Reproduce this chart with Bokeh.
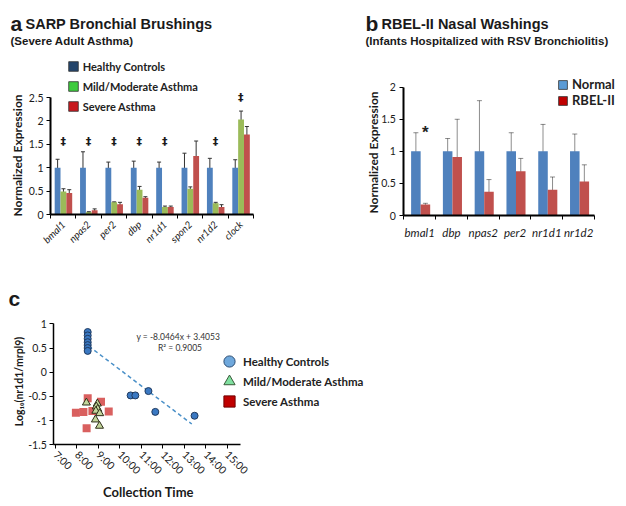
import math
from bokeh.plotting import figure
from bokeh.models import (ColumnDataSource, Range1d, FixedTicker, NumeralTickFormatter,
                          Whisker, TeeHead, Legend, LegendItem, Label)
from bokeh.layouts import column, row
from bokeh.embed import file_html
from bokeh.resources import INLINE
from bokeh.core.properties import value

# ---------------- data: panel a ----------------
a_genes = ["bmal1", "npas2", "per2", "dbp", "nr1d1", "spon2", "nr1d2", "clock"]
a_series = ["Healthy Controls", "Mild/Moderate Asthma", "Severe Asthma"]
a_healthy = [1.0, 1.0, 1.0, 1.0, 1.0, 1.0, 1.0, 1.0]
a_healthy_err = [0.18, 0.34, 0.12, 0.14, 0.12, 0.31, 0.20, 0.17]
a_mild = [0.49, 0.05, 0.26, 0.53, 0.16, 0.55, 0.24, 2.03]
a_mild_err = [0.06, 0.01, 0.01, 0.07, 0.02, 0.04, 0.02, 0.18]
a_severe = [0.46, 0.09, 0.22, 0.36, 0.16, 1.25, 0.16, 1.71]
a_severe_err = [0.07, 0.03, 0.04, 0.02, 0.02, 0.32, 0.05, 0.17]
a_sig_genes = ["bmal1", "npas2", "per2", "dbp", "nr1d1", "nr1d2", "clock"]
a_sig_y = [1.57, 1.57, 1.57, 1.57, 1.57, 1.57, 2.5]
a_yticks = [0, 0.5, 1, 1.5, 2, 2.5]

# ---------------- data: panel b ----------------
b_genes = ["bmal1", "dbp", "npas2", "per2", "nr1d1", "nr1d2"]
b_series = ["Normal", "RBEL-II"]
b_normal = [1.0, 1.0, 1.0, 1.0, 1.0, 1.0]
b_normal_err = [0.29, 0.20, 0.79, 0.29, 0.42, 0.27]
b_rbel = [0.17, 0.91, 0.37, 0.69, 0.40, 0.53]
b_rbel_err = [0.02, 0.59, 0.19, 0.20, 0.20, 0.26]
b_sig_gene = "bmal1"
b_sig_y = 1.36
b_yticks = [0, 0.5, 1, 1.5, 2]

# ---------------- data: panel c ----------------
c_series = ["Healthy Controls", "Mild/Moderate Asthma", "Severe Asthma"]
c_healthy_t = [8.5, 8.5, 8.5, 8.5, 8.5, 8.5, 8.5, 10.5, 10.72, 11.33, 11.65, 13.48]
c_healthy_v = [0.83, 0.76, 0.69, 0.62, 0.56, 0.50, 0.44, -0.48, -0.48, -0.39, -0.82, -0.90]
c_mild_t = [8.44, 8.95, 8.90, 8.97, 8.88, 9.06, 8.86, 9.05]
c_mild_v = [-0.63, -0.65, -0.71, -0.76, -0.80, -0.85, -0.98, -1.11]
c_severe_t = [7.95, 8.30, 8.50, 8.45, 8.72, 9.12, 9.48]
c_severe_v = [-0.84, -0.82, -0.54, -1.16, -0.80, -0.61, -0.81]
c_trend_slope = -8.0464
c_trend_intercept = 3.4053
c_trend_t = [8.55, 13.35]
c_eq_text = ["y = -8.0464x + 3.4053", "R\u00b2 = 0.9005"]
c_eq_t = [12.72, 12.80]
c_eq_v = [0.72, 0.50]
c_xticks = [7, 8, 9, 10, 11, 12, 13, 14, 15]
c_xlabels = ["7:00", "8:00", "9:00", "10:00", "11:00", "12:00", "13:00", "14:00", "15:00"]
c_yticks = [-1.5, -1, -0.5, 0, 0.5, 1]

SANS = "Lato"
TFONT = "Liberation Sans"
TXT = "#1a1a1a"


def outer_x(d0, d1, p0, p1, size):
    """x range covering the whole figure so that d0 sits at pixel p0 and d1 at p1"""
    ppu = (p1 - p0) / (d1 - d0)
    return Range1d(d0 - p0 / ppu, d0 + (size - p0) / ppu)


def outer_y(d0, d1, p0, p1, size):
    """y range (pixels measured from the top) so that d0 sits at p0 and d1 at p1"""
    ppu = (p0 - p1) / (d1 - d0)
    return Range1d(d0 - (size - p0) / ppu, d0 + p0 / ppu)


def make_fig(w, h, xr, yr):
    p = figure(width=w, height=h, x_range=xr, y_range=yr, output_backend="svg",
               toolbar_location=None, title=None, min_border=0)
    p.outline_line_color = None
    p.xgrid.grid_line_color = None
    p.ygrid.grid_line_color = None
    p.background_fill_color = "white"
    return p


def style_axis(ax, lw, size="10.5px"):
    ax.axis_line_color = "black"
    ax.axis_line_width = lw
    ax.major_tick_line_color = "black"
    ax.major_tick_out = 4
    ax.major_tick_in = 0
    ax.minor_tick_line_color = None
    ax.major_label_text_font = SANS
    ax.major_label_text_font_size = size
    ax.major_label_text_color = TXT


def label(p, h, x, y, text, font=SANS, size="12px", style="bold", angle=0,
          align="left", baseline="alphabetic", color=TXT):
    # x, y: pixel position inside this figure measured from its top-left corner
    p.add_layout(Label(x=x, y=h - y, x_units="screen", y_units="screen", text=text,
                       text_font=font, text_font_style=style, text_font_size=size,
                       text_color=color, angle=angle, text_align=align,
                       text_baseline=baseline))


def legend(items, loc, gw, gh, lh, sp, size, standoff=4):
    return Legend(items=items, location=loc, glyph_width=gw, glyph_height=gh,
                  label_height=lh, spacing=sp, padding=0, margin=0, label_standoff=standoff,
                  border_line_color=None, background_fill_alpha=0,
                  label_text_font=SANS, label_text_font_style="bold",
                  label_text_font_size=size, label_text_color="#222222")


# ======================= panel a =======================
WA, HA = 320, 280
na = len(a_genes)
pa = make_fig(WA, HA, outer_x(0, na, 50, 253, WA), outer_y(0, 2.5, 214, 97, HA))
centers_a = [i + 0.5 for i in range(na)]
xa = pa.xaxis[0]
ya = pa.yaxis[0]
xa.fixed_location = 0
xa.bounds = (0, na)
xa.ticker = FixedTicker(ticks=centers_a, minor_ticks=list(range(na + 1)))
xa.major_label_overrides = {c: g for c, g in zip(centers_a, a_genes)}
style_axis(xa, 2, "10px")
xa.major_tick_line_color = None
xa.minor_tick_line_color = "black"
xa.minor_tick_out = 4
xa.minor_tick_in = 0
xa.major_label_orientation = math.pi / 4
xa.major_label_text_font_style = "italic"
xa.major_label_standoff = 4
ya.fixed_location = 0
ya.bounds = (0, 2.5)
ya.ticker = FixedTicker(ticks=a_yticks)
ya.formatter = NumeralTickFormatter(format="0.[0]")
style_axis(ya, 2)
ya.major_label_standoff = 3

a_vals = [a_healthy, a_mild, a_severe]
a_errs = [a_healthy_err, a_mild_err, a_severe_err]
a_colors = ["#4F81BD", "#9BBB59", "#C0504D"]
a_leg_colors = ["#24456B", "#3DCB3D", "#C8191E"]
a_offsets = [-0.22, 0.01, 0.24]
a_bw = 0.23
a_items = []
for k in range(3):
    xs = [c + a_offsets[k] for c in centers_a]
    src = ColumnDataSource(dict(
        x=xs, top=a_vals[k],
        upper=[v + e for v, e in zip(a_vals[k], a_errs[k])],
        lower=[v - e for v, e in zip(a_vals[k], a_errs[k])]))
    pa.vbar(x="x", top="top", width=a_bw, source=src, fill_color=a_colors[k], line_color=None)
    pa.add_layout(Whisker(source=src, base="x", upper="upper", lower="lower",
                          line_color="#333333", line_width=1,
                          upper_head=TeeHead(size=4, line_color="#333333", line_width=1),
                          lower_head=TeeHead(size=4, line_color="#333333", line_width=1)))
    # legend swatch (the key uses its own colours in the reference)
    r = pa.vbar(x="x", top="top", width=a_bw, source=src, fill_color=a_leg_colors[k],
                line_color="#333333", line_width=0.8, visible=False)
    a_items.append(LegendItem(label=a_series[k], renderers=[r]))

sig_src = ColumnDataSource(dict(x=[a_genes.index(g) + 0.5 for g in a_sig_genes], y=a_sig_y,
                                t=["\u2021"] * len(a_sig_genes)))
pa.text(x="x", y="y", text="t", source=sig_src, text_font=value("DejaVu Sans"),
        text_font_size="11px", text_font_style="bold", text_align="center",
        text_baseline="middle", text_color="#1a1a1a")

pa.add_layout(legend(a_items, (66.7, HA - 113), 12, 12, 14, 6, "11px"))
label(pa, HA, 10, 23, "a", font=TFONT, size="21px")
label(pa, HA, 25, 23, "SARP Bronchial Brushings", font=TFONT, size="14.5px")
label(pa, HA, 10, 40.5, "(Severe Adult Asthma)", font=TFONT, size="11.5px")
label(pa, HA, 17, 155, "Normalized Expression", size="12px", angle=math.pi / 2,
      align="center", baseline="middle")

# ======================= panel b =======================
WB, HB = 306, 280
nb = len(b_genes)
pb = make_fig(WB, HB, outer_x(0, nb, 83.3, 274, WB), outer_y(0, 2, 215, 86.7, HB))
centers_b = [i + 0.5 for i in range(nb)]
xb = pb.xaxis[0]
yb = pb.yaxis[0]
xb.fixed_location = 0
xb.bounds = (0, nb)
xb.ticker = FixedTicker(ticks=centers_b, minor_ticks=list(range(nb + 1)))
xb.major_label_overrides = {c: g for c, g in zip(centers_b, b_genes)}
style_axis(xb, 2, "11.5px")
xb.major_tick_line_color = None
xb.minor_tick_line_color = "black"
xb.minor_tick_out = 4
xb.minor_tick_in = 0
xb.major_label_text_font_style = "italic"
xb.major_label_standoff = 6
yb.fixed_location = 0
yb.bounds = (0, 2)
yb.ticker = FixedTicker(ticks=b_yticks)
yb.formatter = NumeralTickFormatter(format="0.[0]")
style_axis(yb, 2)
yb.major_label_standoff = 4

b_vals = [b_normal, b_rbel]
b_errs = [b_normal_err, b_rbel_err]
b_colors = ["#4F81BD", "#C0504D"]
b_leg_colors = ["#5B9BD5", "#C00000"]
b_offsets = [-0.12, 0.18]
b_bw = 0.30
b_items = []
for k in range(2):
    xs = [c + b_offsets[k] for c in centers_b]
    src = ColumnDataSource(dict(
        x=xs, top=b_vals[k],
        upper=[v + e for v, e in zip(b_vals[k], b_errs[k])],
        lower=[v - e for v, e in zip(b_vals[k], b_errs[k])]))
    pb.vbar(x="x", top="top", width=b_bw, source=src, fill_color=b_colors[k], line_color=None)
    pb.add_layout(Whisker(source=src, base="x", upper="upper", lower="lower",
                          line_color="black", line_alpha=0.45, line_width=1,
                          upper_head=TeeHead(size=5, line_color="black", line_alpha=0.45),
                          lower_head=TeeHead(size=5, line_color="black", line_alpha=0.45)))
    r = pb.vbar(x="x", top="top", width=b_bw, source=src, fill_color=b_leg_colors[k],
                line_color="#333333", line_width=0.8, visible=False)
    b_items.append(LegendItem(label=b_series[k], renderers=[r]))

bsig = ColumnDataSource(dict(x=[b_genes.index(b_sig_gene) + 0.5 + b_offsets[1]],
                             y=[b_sig_y - 0.07], t=["*"]))
pb.text(x="x", y="y", text="t", source=bsig, text_font=value(TFONT), text_font_size="17px",
        text_font_style="bold", text_align="center", text_baseline="middle",
        text_color="#222222")

pb.add_layout(legend(b_items, (237, HB - 108), 11, 11, 16, 0, "13px"))
label(pb, HB, 45, 23, "b", font=TFONT, size="21px")
label(pb, HB, 61, 23, "RBEL-II Nasal Washings", font=TFONT, size="14.5px")
label(pb, HB, 45, 40.5, "(Infants Hospitalized with RSV Bronchiolitis)", font=TFONT,
      size="11.5px")
label(pb, HB, 53, 152, "Normalized Expression", size="12px", angle=math.pi / 2,
      align="center", baseline="middle")

# ======================= panel c =======================
WC, HC = 626, 226
pc = make_fig(WC, HC, outer_x(7, 15, 55, 226.7, WC), outer_y(-1.5, 1.0, 164.3, 43.3, HC))
x_axis_at = 6.92
xc = pc.xaxis[0]
yc = pc.yaxis[0]
xc.fixed_location = -1.5
xc.bounds = (x_axis_at, 15.6)
xc.ticker = FixedTicker(ticks=c_xticks)
xc.major_label_overrides = {t: s for t, s in zip(c_xticks, c_xlabels)}
style_axis(xc, 1.5)
xc.major_label_orientation = -math.pi / 4
xc.major_label_standoff = 4
yc.fixed_location = x_axis_at
yc.bounds = (-1.5, 1.0)
yc.ticker = FixedTicker(ticks=c_yticks)
yc.formatter = NumeralTickFormatter(format="0.[0]")
style_axis(yc, 1.5)
yc.major_label_standoff = 3

trend_v = [c_trend_intercept + c_trend_slope * t / 24.0 for t in c_trend_t]
pc.line(c_trend_t, trend_v, line_color="#4A90C8", line_width=1.5, line_dash="4 3")
pc.scatter(c_severe_t, c_severe_v, marker="square", size=8, fill_color="#D9605F",
           line_color=None)
pc.scatter(c_mild_t, c_mild_v, marker="triangle", size=8, fill_color="#C3D69B",
           line_color="#2F2F1A", line_width=1)
pc.scatter(c_healthy_t, c_healthy_v, marker="circle", size=7, fill_color="#3A78C2",
           line_color="#1F3A5F", line_width=1)

eq_src = ColumnDataSource(dict(x=c_eq_t, y=c_eq_v, t=c_eq_text))
pc.text(x="x", y="y", text="t", source=eq_src, text_font=value(SANS), text_font_size="8.5px",
        text_align="center", text_baseline="middle", text_color="#333333")

c_leg = [("circle", "#6FA8DC", "#2B4C73"), ("triangle", "#80E0A0", "#3A5A3A"),
         ("square", "#C00000", "#700000")]
c_data = [(c_healthy_t, c_healthy_v), (c_mild_t, c_mild_v), (c_severe_t, c_severe_v)]
c_item_centers = [361, 381, 401]   # pixel rows of the three key entries
for name, (mk, fc, lc), (tt, vv), cy in zip(c_series, c_leg, c_data, c_item_centers):
    r = pc.scatter(tt, vv, marker=mk, size=10, fill_color=fc, line_color=lc, line_width=1,
                   visible=False)
    pc.add_layout(legend([LegendItem(label=name, renderers=[r])],
                         (215, HC - (cy - 280 + 14)), 28, 28, 20, 0, "11.5px", 0))
label(pc, HC, 8, 18, "c", font=TFONT, size="21px")
label(pc, HC, 18, 101, "Log\u2081\u2080(nr1d1/mrpl9)", size="10.5px", angle=math.pi / 2,
      align="center", baseline="middle")
label(pc, HC, 148, 211, "Collection Time", size="13px", align="center", baseline="middle")

layout = column(row(pa, pb), pc)
open("out.html", "w").write(file_html(layout, INLINE))
